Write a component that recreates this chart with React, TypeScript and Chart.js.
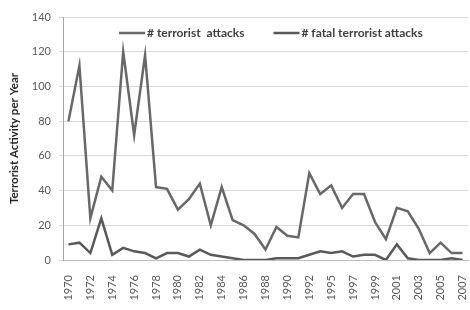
import React, { useEffect, useRef } from 'react';
import { Chart, registerables } from 'chart.js';

Chart.register(...registerables);

// Categories (note: 1993 is absent from the source data)
const years: string[] = [
  '1970', '1971', '1972', '1973', '1974', '1975', '1976', '1977', '1978', '1979',
  '1980', '1981', '1982', '1983', '1984', '1985', '1986', '1987', '1988', '1989',
  '1990', '1991', '1992', '1994', '1995', '1996', '1997', '1998', '1999', '2000',
  '2001', '2002', '2003', '2004', '2005', '2006', '2007',
];

const terroristAttacks: number[] = [
  80, 112, 24, 48, 40, 120, 72, 118, 42, 41,
  29, 35, 44, 20, 42, 23, 20, 15, 6, 19,
  14, 13, 50, 38, 43, 30, 38, 38, 22, 12,
  30, 28, 18, 4, 10, 4, 4,
];

const fatalAttacks: number[] = [
  9, 10, 4, 24, 3, 7, 5, 4, 1, 4,
  4, 2, 6, 3, 2, 1, 0, 0, 0, 1,
  1, 1, 3, 5, 4, 5, 2, 3, 3, 0,
  9, 1, 0, 0, 0, 1, 0,
];

const seriesNames: string[] = ['# terrorist  attacks', '# fatal terrorist attacks'];
const seriesColors: string[] = ['#686868', '#595959'];
const yAxisTitle = 'Terrorist Activity per Year';
const yMin = 0;
const yMax = 140;
const yStep = 20;

const FONT = 'Lato, "Open Sans", sans-serif';

const insideLegend = {
  id: 'insideLegend',
  afterDatasetsDraw(chart: any) {
    const ctx: CanvasRenderingContext2D = chart.ctx;
    const area = chart.chartArea;
    const y = area.top + 16;
    const sampleLen = 26;
    const gapText = 2;
    const gapItems = 29;
    ctx.save();
    ctx.font = `bold 12px ${FONT}`;
    ctx.textBaseline = 'middle';
    ctx.textAlign = 'left';
    let x = area.left + 56;
    chart.data.datasets.forEach((ds: any) => {
      ctx.strokeStyle = ds.borderColor;
      ctx.lineWidth = 2.5;
      ctx.beginPath();
      ctx.moveTo(x, y);
      ctx.lineTo(x + sampleLen, y);
      ctx.stroke();
      ctx.fillStyle = '#404040';
      const tx = x + sampleLen + gapText;
      ctx.fillText(ds.label, tx, y);
      x = tx + ctx.measureText(ds.label).width + gapItems;
    });
    ctx.restore();
  },
};

const whiteBg = {
  id: 'whiteBg',
  beforeDraw(chart: any) {
    const ctx = chart.ctx;
    ctx.save();
    ctx.fillStyle = '#ffffff';
    ctx.fillRect(0, 0, chart.width, chart.height);
    ctx.restore();
  },
};

export default function App() {
  const canvasRef = useRef<HTMLCanvasElement | null>(null);

  useEffect(() => {
    if (!canvasRef.current) return;
    const chart = new Chart(canvasRef.current, {
      type: 'line',
      data: {
        labels: years,
        datasets: [
          {
            label: seriesNames[0],
            data: terroristAttacks,
            borderColor: seriesColors[0],
            backgroundColor: seriesColors[0],
            borderWidth: 2.5,
            pointRadius: 0,
            tension: 0,
          },
          {
            label: seriesNames[1],
            data: fatalAttacks,
            borderColor: seriesColors[1],
            backgroundColor: seriesColors[1],
            borderWidth: 2.5,
            pointRadius: 0,
            tension: 0,
          },
        ],
      },
      options: {
        responsive: false,
        animation: false,
        layout: { padding: { top: 17, right: 2, left: 0, bottom: 0 } },
        plugins: {
          legend: { display: false },
          tooltip: { enabled: false },
        },
        scales: {
          x: {
            type: 'category',
            offset: true,
            grid: { display: false },
            border: { display: true, color: '#bfbfbf', width: 1 },
            ticks: {
              autoSkip: false,
              maxRotation: 90,
              minRotation: 90,
              padding: 7,
              color: '#595959',
              font: { family: FONT, size: 11 },
              callback: (_v: any, i: number) => (i % 2 === 0 ? years[i] : ''),
            },
            afterFit: (scale: any) => {
              scale.height = 50;
              scale.paddingLeft = 0;
              scale.paddingRight = 0;
            },
          },
          y: {
            min: yMin,
            max: yMax,
            grid: { color: '#d9d9d9', lineWidth: 1, tickLength: 4, drawTicks: true },
            border: { display: true, color: '#a6a6a6', width: 1 },
            ticks: {
              stepSize: yStep,
              padding: 8,
              color: '#595959',
              font: { family: FONT, size: 11 },
            },
            title: {
              display: true,
              text: yAxisTitle,
              color: '#262626',
              font: { family: FONT, size: 11.5, weight: 'bold' },
              padding: { top: 7, bottom: 0 },
            },
            afterFit: (scale: any) => {
              scale.width = 63;
            },
          },
        },
      },
      plugins: [whiteBg, insideLegend],
    });
    return () => chart.destroy();
  }, []);

  return (
    <div style={{ position: 'absolute', left: 0, top: 0, width: 470, height: 310, background: '#fff' }}>
      <canvas ref={canvasRef} width={470} height={310} />
    </div>
  );
}
